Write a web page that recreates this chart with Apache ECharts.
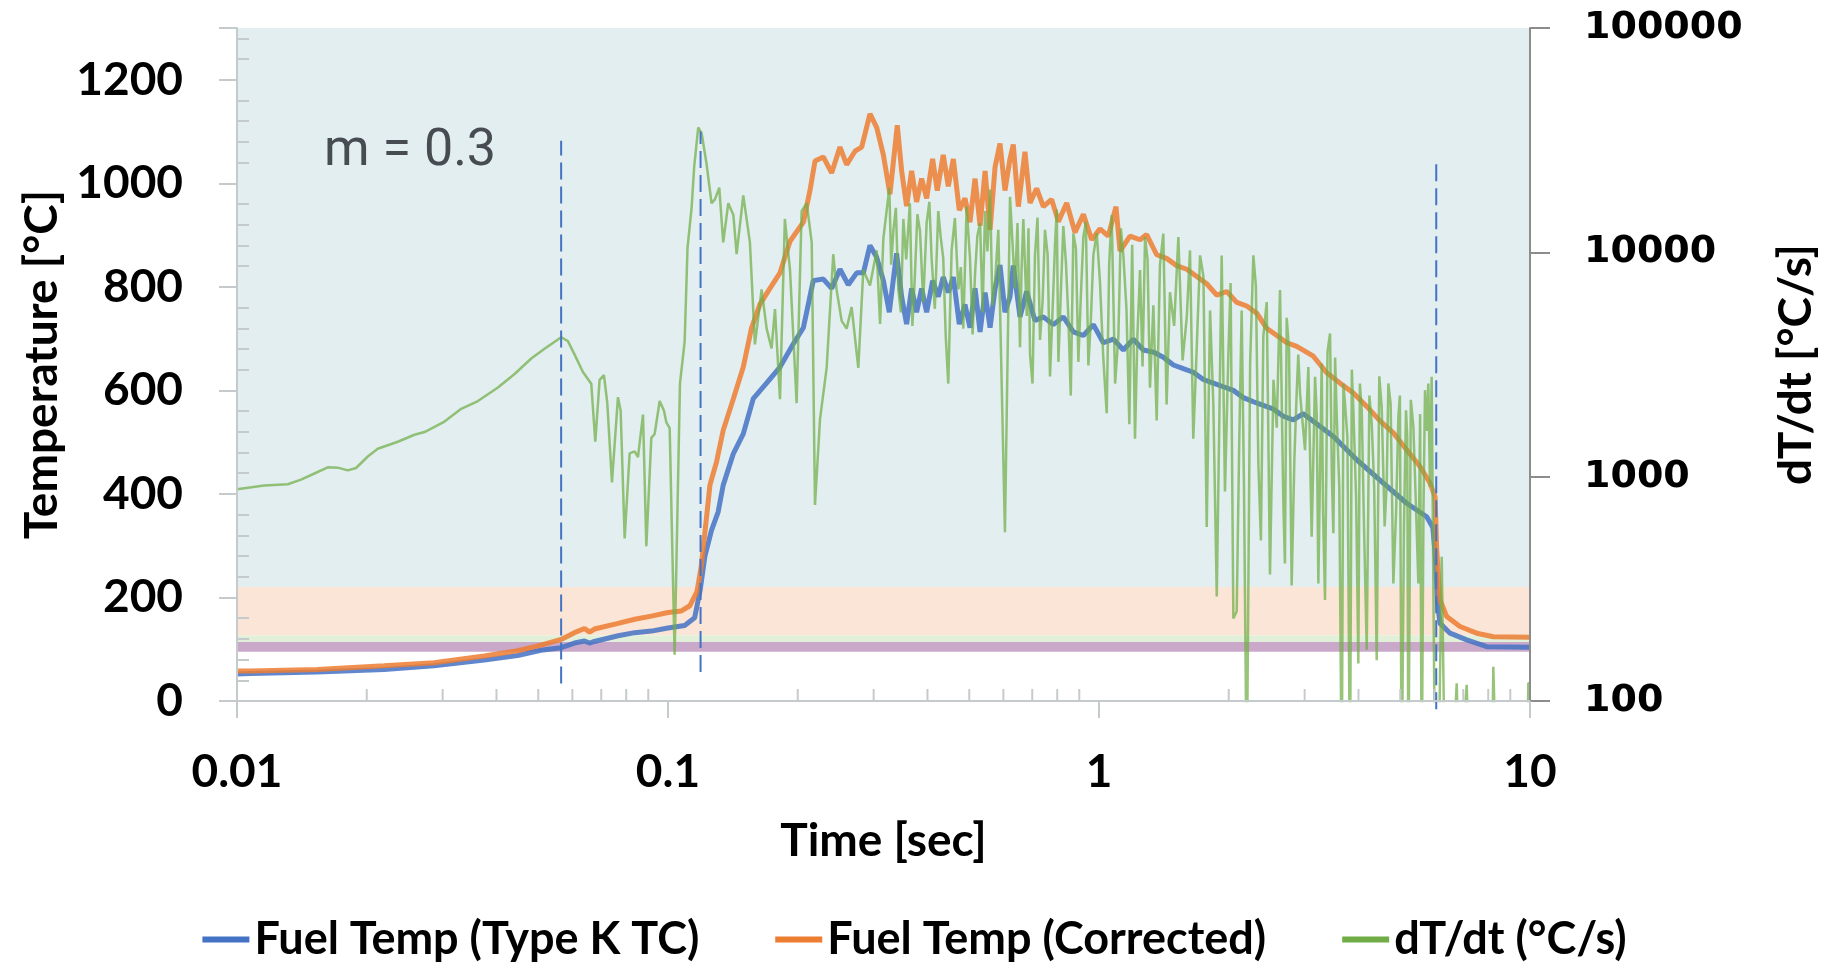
<!DOCTYPE html>
<html>
<head>
<meta charset="utf-8">
<title>Fuel temperature and dT/dt</title>
<script src="https://cdn.jsdelivr.net/npm/echarts@6.0.0/dist/echarts.min.js"></script>
<style>
  html, body { margin: 0; padding: 0; background: #fff; }
  #chart { width: 1829px; height: 971px; }
</style>
</head>
<body>
<div id="chart"></div>
<script>
// Fuel Temp (Type K TC): time [s] / temperature [°C]
const tcTime = [
  0.01, 0.01074, 0.01535, 0.02193, 0.02864, 0.03747, 0.04477, 0.05073, 0.0565, 0.06067,
  0.064, 0.0658, 0.0675, 0.0766, 0.0837, 0.0915, 0.1, 0.1093, 0.1153, 0.1188,
  0.1218, 0.1262, 0.1307, 0.1343, 0.1418, 0.1495, 0.1577, 0.1693, 0.1819, 0.1954,
  0.2061, 0.2173, 0.2293, 0.2397, 0.2506, 0.262, 0.2741, 0.284, 0.2942, 0.3049,
  0.316, 0.3262, 0.3391, 0.3484, 0.3578, 0.3675, 0.3774, 0.3877, 0.3982, 0.4111,
  0.4237, 0.4351, 0.447, 0.4592, 0.4741, 0.4887, 0.502, 0.5157, 0.5297, 0.5441,
  0.5588, 0.574, 0.5893, 0.6051, 0.6215, 0.6326, 0.6557, 0.6794, 0.7103, 0.7428,
  0.7835, 0.8265, 0.872, 0.9198, 0.9703, 1.0235, 1.08, 1.139, 1.201, 1.267,
  1.337, 1.41, 1.488, 1.569, 1.655, 1.746, 1.842, 1.943, 2.05, 2.162,
  2.281, 2.406, 2.538, 2.677, 2.824, 2.979, 3.498, 3.962, 4.568, 5.175,
  5.759, 5.95, 6.03, 6.1, 6.184, 6.523, 7.131, 7.935, 10
];
const tcTemp = [
  52, 53, 56, 61, 68, 79, 88, 98, 103, 112,
  116, 112, 115, 126, 132, 135, 141, 146, 161, 215,
  280, 330, 365, 417, 478, 516, 584, 614, 645, 690,
  721, 812, 815, 797, 834, 804, 827, 827, 880, 857,
  812, 751, 865, 781, 728, 797, 751, 797, 751, 812,
  781, 819, 789, 819, 728, 766, 721, 797, 713, 789,
  721, 797, 842, 751, 781, 841, 742, 791, 735, 742,
  727, 742, 713, 706, 727, 692, 699, 678, 699, 678,
  674, 664, 649, 642, 635, 621, 614, 607, 600, 586,
  578, 571, 564, 550, 543, 555, 511, 466, 421, 382,
  356, 335, 280, 190, 150, 131, 118, 105, 104
];

// Fuel Temp (Corrected)
const corrTime = [
  0.01, 0.01074, 0.01535, 0.02193, 0.02864, 0.03747, 0.04477, 0.05073, 0.0565, 0.06067,
  0.064, 0.0658, 0.0675, 0.0766, 0.0837, 0.0915, 0.1, 0.1074, 0.1124, 0.1168,
  0.1195, 0.1225, 0.1251, 0.1297, 0.1343, 0.1418, 0.1495, 0.1563, 0.1634, 0.1724,
  0.1819, 0.1919, 0.2061, 0.2135, 0.2193, 0.2293, 0.2397, 0.2506, 0.2597, 0.2716,
  0.2814, 0.2942, 0.3049, 0.316, 0.3273, 0.3404, 0.3484, 0.3578, 0.3675, 0.3774,
  0.3877, 0.3982, 0.4111, 0.4215, 0.4351, 0.447, 0.4592, 0.4741, 0.4887, 0.502,
  0.5157, 0.5297, 0.5441, 0.5588, 0.574, 0.5893, 0.6051, 0.6215, 0.6326, 0.6499,
  0.6733, 0.6918, 0.7167, 0.7428, 0.7765, 0.805, 0.8414, 0.8797, 0.9198, 0.9617,
  1.005, 1.051, 1.095, 1.119, 1.18, 1.245, 1.29, 1.361, 1.435, 1.514,
  1.598, 1.686, 1.778, 1.876, 1.979, 2.087, 2.202, 2.323, 2.45, 2.585,
  2.727, 2.876, 3.143, 3.375, 3.625, 3.892, 4.18, 4.487, 4.819, 5.175,
  5.556, 5.861, 6.022, 6.076, 6.184, 6.409, 6.88, 7.521, 8.222, 10
];
const corrTemp = [
  58, 58, 61, 68, 74, 87, 97, 108, 119, 132,
  140, 133, 139, 150, 158, 164, 171, 174, 184, 212,
  262, 345, 417, 463, 523, 584, 645, 721, 766, 797,
  827, 888, 925, 986, 1043, 1051, 1020, 1070, 1036, 1062,
  1070, 1134, 1108, 1055, 979, 1112, 1024, 956, 1024, 964,
  1009, 971, 1047, 986, 1055, 994, 1047, 948, 971, 925,
  1009, 918, 1024, 910, 1032, 1077, 986, 1047, 1075, 955,
  1061, 962, 990, 955, 969, 926, 962, 905, 940, 891,
  912, 898, 955, 869, 898, 891, 901, 862, 855, 841,
  834, 820, 806, 784, 791, 770, 763, 749, 720, 706,
  692, 685, 666, 634, 614, 595, 569, 541, 518, 485,
  453, 421, 395, 292, 195, 163, 144, 131, 124, 123
];

// dT/dt [°C/s]; values under 100 fall below the log axis floor
const rateTime = [
  0.01, 0.01157, 0.01311, 0.01408, 0.01512, 0.01624, 0.01713, 0.01807, 0.01889, 0.02011,
  0.02121, 0.02361, 0.02581, 0.02723, 0.0303, 0.03313, 0.03622, 0.04031, 0.04406, 0.04816,
  0.05171, 0.05653, 0.05858, 0.06071, 0.06347, 0.06637, 0.06781, 0.0694, 0.07102, 0.0723,
  0.07413, 0.07654, 0.07765, 0.07933, 0.08147, 0.08368, 0.08518, 0.0875, 0.08907, 0.09148,
  0.09312, 0.09565, 0.09788, 0.09911, 0.1009, 0.1036, 0.1066, 0.1093, 0.111, 0.1135,
  0.115, 0.1175, 0.1197, 0.1229, 0.1262, 0.1285, 0.1315, 0.1343, 0.138, 0.1418,
  0.1443, 0.1495, 0.1549, 0.1591, 0.1649, 0.1694, 0.1739, 0.1771, 0.1819, 0.1867,
  0.1919, 0.1988, 0.2042, 0.2098, 0.2155, 0.2193, 0.2253, 0.2334, 0.2418, 0.2461,
  0.2529, 0.2597, 0.2667, 0.2764, 0.2839, 0.2942, 0.3049, 0.316, 0.3262, 0.3333,
  0.3423, 0.3516, 0.3641, 0.3741, 0.3843, 0.3982, 0.4089, 0.4237, 0.4351, 0.447,
  0.455, 0.4718, 0.4843, 0.502, 0.5157, 0.5297, 0.5441, 0.5585, 0.574, 0.584,
  0.605, 0.6216, 0.6382, 0.6557, 0.6675, 0.6918, 0.7103, 0.7297, 0.7493, 0.7697,
  0.7906, 0.805, 0.8265, 0.849, 0.872, 0.8956, 0.9198, 0.9447, 0.9703, 1.005,
  1.042, 1.07, 1.109, 1.139, 1.176, 1.212, 1.245, 1.279, 1.313, 1.361,
  1.41, 1.461, 1.528, 1.598, 1.655, 1.716, 1.778, 1.81, 1.876, 1.926,
  1.996, 2.05, 2.087, 2.143, 2.202, 2.281, 2.343, 2.406, 2.493, 2.585,
  2.677, 2.726, 2.799, 2.876, 2.927, 3.006, 3.06, 3.115, 3.172, 3.228,
  3.286, 3.345, 3.436, 3.498, 3.562, 3.658, 3.722, 3.823, 3.892, 3.997,
  4.07, 4.18, 4.293, 4.409, 4.528, 4.651, 4.692, 4.819, 4.95, 5.038,
  5.156, 5.222, 5.363, 5.508, 5.607, 5.707, 5.809, 5.913, 6.022, 6.13,
  6.24, 6.352, 6.58, 6.76, 6.86, 7.13, 7.26, 8.15, 8.22, 8.37,
  9.82, 9.91, 10
];
const rateValue = [
  878, 913, 925, 970, 1033, 1101, 1097, 1067, 1093, 1230,
  1332, 1431, 1538, 1581, 1760, 2006, 2173, 2496, 2868, 3363,
  3714, 4183, 4021, 3499, 2927, 2598, 1431, 2703, 2835, 2130,
  943, 2261, 1967, 530, 1271, 1296, 1221, 1890, 490, 1489,
  1549, 2173, 1967, 1746, 1644, 161, 2600, 4000, 10500, 16000,
  24000, 36000, 34000, 24700, 16550, 17220, 19440, 11070, 16550, 14660,
  9810, 17950, 11070, 3890, 6830, 4570, 3730, 5580, 2213, 14090,
  8350, 2128, 15270, 16550, 11070, 748, 1811, 3055, 9810, 6830,
  4950, 4570, 5700, 3055, 8350, 7110, 10200, 11510, 19440, 12470,
  6830, 14090, 16550, 8020, 12470, 13520, 9420, 15270, 9420, 2600,
  10200, 6830, 4570, 9420, 8020, 13520, 15270, 19050, 7430, 12590,
  565, 17660, 6900, 3780, 14090, 3510, 9690, 4070, 12590, 2800,
  10830, 3250, 13090, 5110, 12130, 3250, 11690, 3130, 9690, 7430,
  1920, 14650, 4230, 9690, 1714, 1475, 8340, 11690, 2494, 1780,
  12130, 6640, 11690, 5110, 1475, 9690, 597, 5500, 292, 9690,
  3510, 233, 251, 5500, 40, 9690, 1133, 4230, 366, 1652,
  778, 5110, 327, 2404, 2350, 1312, 3084, 540, 2785, 334,
  3192, 282, 4345, 559, 1845, 40, 2117, 40, 1977, 147,
  1977, 169, 1727, 152, 2045, 933, 2603, 334, 1845, 40,
  1977, 40, 1668, 334, 40, 2430, 2603, 2785, 40, 40,
  440, 40, 40, 120, 40, 118, 40, 40, 142, 40,
  40, 120, 120
];

const rateTimeDense = [
  0.3105, 0.3295, 0.3378, 0.347, 0.357, 0.369, 0.379, 0.391, 0.404, 0.416,
  0.429, 0.441, 0.463, 0.478, 0.493, 0.509, 0.522, 0.537, 0.551, 0.566,
  0.63, 0.647, 0.661, 0.68, 0.686, 0.701, 0.72, 0.74, 0.76, 0.78,
  0.798, 0.815, 0.838, 0.86, 0.884, 0.907, 0.932, 0.957, 0.988, 1.023,
  1.056, 1.09, 1.124, 1.158, 1.194, 1.228, 1.262, 1.296, 1.337, 1.385,
  1.435, 1.494, 1.563, 1.626, 1.686, 1.747, 1.842, 1.96, 2.02, 2.115,
  2.17, 2.242, 2.312, 2.375, 2.45, 2.54, 2.63, 2.7, 2.76, 2.84,
  2.9, 3.2, 3.31, 3.39, 3.47, 3.53, 3.61, 3.69, 3.77, 3.86,
  3.95, 4.03, 4.12, 4.24, 4.35, 4.47, 4.6, 4.75, 4.89, 4.99,
  5.1, 5.19, 5.29, 5.43, 5.56, 5.66, 5.76, 5.86
];
const rateValueDense = [
  4800, 8800, 15800, 5400, 9300, 4700, 14800, 6000, 16800, 5600,
  11800, 4200, 14200, 8600, 16000, 4300, 11800, 5400, 10100, 5800,
  11000, 13500, 8200, 5200, 12800, 2600, 14300, 6100, 9800, 5400,
  15500, 6400, 9000, 2300, 10400, 6200, 13700, 4900, 12200, 3400,
  8900, 2600, 12800, 5600, 10800, 4300, 3100, 9300, 5800, 8800,
  2100, 4700, 3300, 10200, 3800, 7800, 2100, 860, 7300, 1400,
  880, 3200, 7100, 520, 6000, 2700, 6800, 410, 3700, 1200,
  3500, 1900, 700, 3600, 1000, 3400, 900, 2600, 1500, 3000,
  800, 2600, 600, 2300, 900, 2800, 600, 2100, 700, 2300,
  600, 1500, 2200, 800, 1900, 700, 1600, 900
];

// vertical dashed markers: [time, lower temp, upper temp]
const markerLines = [
  [0.0565, 34, 1082],
  [0.119, 56, 1100],
  [6.06, -16, 1042]
];

// horizontal temperature bands [low, high] in °C
const bandLimits = [[220, 1300], [127, 220], [114, 127], [95, 114]];
const bandColors = ['#e2eef0', '#fbe5d6', '#e2f0d9', '#c9a8c9'];

// minor ticks on the log time axis
const timeMinorTicks = [
  0.02, 0.03, 0.04, 0.05, 0.06, 0.07, 0.08, 0.09,
  0.2, 0.3, 0.4, 0.5, 0.6, 0.7, 0.8, 0.9,
  2, 3, 4, 5, 6, 7, 8, 9
];

const seriesNames = ['Fuel Temp (Type K TC)', 'Fuel Temp (Corrected)', 'dT/dt (°C/s)'];

const zip = (xs, ys) => xs.map((x, i) => [x, ys[i]]);

const rateData = zip(rateTime, rateValue)
  .concat(zip(rateTimeDense, rateValueDense))
  .sort((a, b) => a[0] - b[0]);

const boldFont = { fontFamily: 'Lato', fontWeight: 'bold', fontSize: 46, color: '#000' };
const gridGray = '#c5cbcc';

const chart = echarts.init(document.getElementById('chart'));

const option = {
  animation: false,
  backgroundColor: '#ffffff',
  grid: { left: 237, right: 299, top: 28, bottom: 270 },
  legend: {
    data: seriesNames,
    left: 'center',
    top: 912,
    icon: 'rect',
    itemWidth: 47,
    itemHeight: 6,
    itemGap: 76,
    textStyle: { fontFamily: 'Lato', fontWeight: 'bold', fontSize: 45, color: '#000' }
  },
  graphic: [{
    type: 'text',
    x: 324,
    y: 152,
    z: 100,
    style: {
      text: 'm = 0.3',
      fontFamily: 'Roboto',
      fontWeight: 'normal',
      fontSize: 52,
      fill: '#474c52',
      verticalAlign: 'middle'
    }
  }],
  xAxis: {
    type: 'log',
    logBase: 10,
    min: 0.01,
    max: 10,
    z: 10,
    name: 'Time [sec]',
    nameLocation: 'middle',
    nameGap: 117,
    nameTextStyle: boldFont,
    axisLine: { onZero: false, lineStyle: { color: gridGray, width: 2 } },
    axisTick: { show: true, length: 17, lineStyle: { color: gridGray, width: 2 } },
    axisLabel: Object.assign({ margin: 48, formatter: v => String(Number(v.toPrecision(4))) }, boldFont),
    splitLine: { show: false },
    minorTick: { show: false }
  },
  yAxis: [
    {
      type: 'value',
      position: 'left',
      min: 0,
      max: 1300,
      interval: 200,
      z: 10,
      name: 'Temperature [°C]',
      nameLocation: 'middle',
      nameRotate: 90,
      nameGap: 172,
      nameTextStyle: boldFont,
      axisLine: { show: true, lineStyle: { color: gridGray, width: 2 } },
      axisTick: { show: true, length: 18, lineStyle: { color: gridGray, width: 2 } },
      minorTick: { show: true, splitNumber: 5, length: -12, lineStyle: { color: gridGray, width: 2 } },
      axisLabel: Object.assign({ margin: 54, showMaxLabel: false, formatter: v => String(v) }, boldFont),
      splitLine: { show: false }
    },
    {
      type: 'log',
      logBase: 10,
      position: 'right',
      min: 100,
      max: 100000,
      z: 10,
      name: 'dT/dt [°C/s]',
      nameLocation: 'middle',
      nameRotate: 90,
      nameGap: 243,
      nameTextStyle: boldFont,
      axisLine: { show: true, lineStyle: { color: '#8c8c8c', width: 2 } },
      axisTick: { show: true, length: 20, lineStyle: { color: '#8c8c8c', width: 2 } },
      axisLabel: {
        margin: 54,
        fontFamily: 'DejaVu Sans',
        fontWeight: 'bold',
        fontSize: 38,
        color: '#000',
        formatter: v => String(Math.round(v))
      },
      splitLine: { show: false },
      minorTick: { show: false }
    }
  ],
  series: [
    {
      name: 'bands',
      type: 'line',
      data: [],
      z: 1,
      silent: true,
      markArea: {
        silent: true,
        data: bandLimits.map((b, i) => [
          { yAxis: b[0], itemStyle: { color: bandColors[i], opacity: 1 } },
          { yAxis: b[1] }
        ])
      }
    },
    {
      name: seriesNames[0],
      type: 'line',
      yAxisIndex: 0,
      z: 3,
      showSymbol: false,
      symbol: 'none',
      color: '#4472c4',
      lineStyle: { width: 5, opacity: 0.85 },
      data: zip(tcTime, tcTemp)
    },
    {
      name: seriesNames[1],
      type: 'line',
      yAxisIndex: 0,
      z: 4,
      showSymbol: false,
      symbol: 'none',
      color: '#ed7d31',
      lineStyle: { width: 5, opacity: 0.85 },
      data: zip(corrTime, corrTemp)
    },
    {
      name: seriesNames[2],
      type: 'line',
      yAxisIndex: 1,
      z: 5,
      showSymbol: false,
      symbol: 'none',
      color: '#70ad47',
      lineStyle: { width: 2.5, opacity: 0.72 },
      data: rateData
    },
    ...markerLines.map((m, i) => ({
      name: 'marker' + i,
      type: 'line',
      yAxisIndex: 0,
      z: 6,
      clip: false,
      silent: true,
      symbol: 'none',
      lineStyle: { color: '#4472c4', width: 2, type: [17, 7] },
      data: [[m[0], m[1]], [m[0], m[2]]]
    })),
    {
      name: 'timeMinorTicks',
      type: 'custom',
      yAxisIndex: 0,
      z: 6,
      clip: false,
      silent: true,
      data: timeMinorTicks.map(t => [t, 0]),
      renderItem: (params, api) => {
        const p = api.coord([api.value(0), 0]);
        return {
          type: 'line',
          shape: { x1: p[0], y1: p[1], x2: p[0], y2: p[1] - 12 },
          style: { stroke: gridGray, lineWidth: 2 }
        };
      }
    }
  ]
};

chart.setOption(option);
</script>
</body>
</html>
